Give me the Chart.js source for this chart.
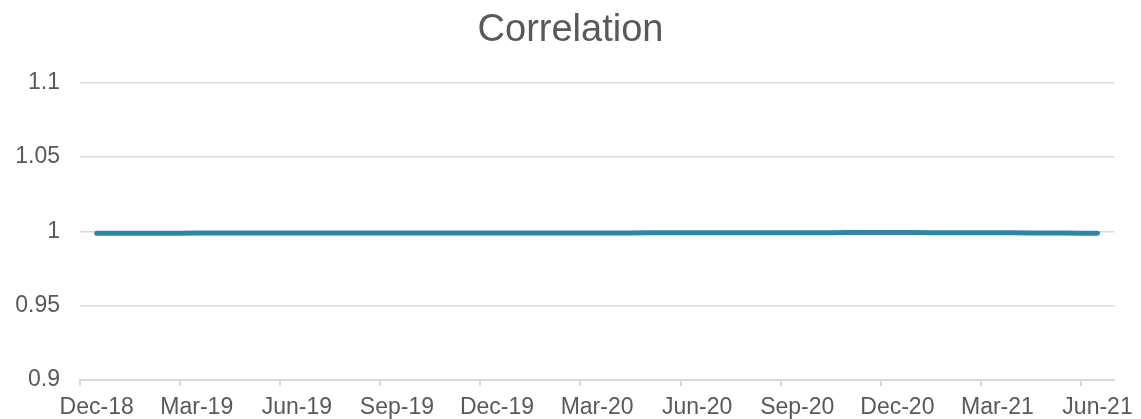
<!DOCTYPE html>
<html lang="en">
<head>
    <meta charset="UTF-8">
    <title>Correlation</title>
    <script src="https://cdn.jsdelivr.net/npm/chart.js"></script>
    <style>
        body {
            margin: 0;
            padding: 0;
            background: white;
        }
        #chart-container {
            width: 1141px;
            height: 419px;
        }
    </style>
</head>
<body>
    <div id="chart-container">
        <canvas id="corrChart"></canvas>
    </div>

    <script>
        // monthly points, Dec-18 .. Jun-21
        const months = [
            'Dec-18', 'Jan-19', 'Feb-19', 'Mar-19', 'Apr-19', 'May-19', 'Jun-19',
            'Jul-19', 'Aug-19', 'Sep-19', 'Oct-19', 'Nov-19', 'Dec-19',
            'Jan-20', 'Feb-20', 'Mar-20', 'Apr-20', 'May-20', 'Jun-20',
            'Jul-20', 'Aug-20', 'Sep-20', 'Oct-20', 'Nov-20', 'Dec-20',
            'Jan-21', 'Feb-21', 'Mar-21', 'Apr-21', 'May-21', 'Jun-21'
        ];
        const correlation = [
            0.9987, 0.9987, 0.9987, 0.9988, 0.9988, 0.9988, 0.9988,
            0.9989, 0.9989, 0.9989, 0.9989, 0.9989, 0.9989,
            0.9989, 0.9989, 0.9989, 0.9989, 0.9990, 0.9990,
            0.9990, 0.9990, 0.9991, 0.9991, 0.9992, 0.9992,
            0.9991, 0.9991, 0.9990, 0.9989, 0.9988, 0.9987
        ];
        const yMin = 0.9;
        const yMax = 1.1;
        const yStep = 0.05;
        const labelEvery = 3;

        const textColor = '#595959';
        const gridColor = '#d9d9d9';
        const font = 'Liberation Sans, Arial, sans-serif';

        const ctx = document.getElementById('corrChart').getContext('2d');
        const corrChart = new Chart(ctx, {
            type: 'line',
            data: {
                labels: months,
                datasets: [{
                    label: 'Correlation',
                    data: correlation,
                    borderColor: '#2e86a6',
                    borderWidth: 5,
                    borderCapStyle: 'round',
                    pointRadius: 0,
                    tension: 0.3,
                    fill: false
                }]
            },
            options: {
                responsive: true,
                maintainAspectRatio: false,
                animation: false,
                layout: {
                    padding: 0
                },
                plugins: {
                    legend: { display: false },
                    tooltip: { enabled: false },
                    title: {
                        display: true,
                        text: 'Correlation',
                        color: textColor,
                        font: { family: font, size: 38, weight: 'normal' },
                        padding: { top: 8, bottom: 29 }
                    }
                },
                scales: {
                    x: {
                        offset: true,
                        afterFit: s => { s.height = 39; },
                        border: { display: true, color: gridColor, width: 2 },
                        grid: {
                            offset: true,
                            drawOnChartArea: false,
                            drawTicks: true,
                            tickLength: 6,
                            lineWidth: 2,
                            color: c => (c.index % labelEvery === 0 && c.index < months.length) ? gridColor : 'transparent'
                        },
                        ticks: {
                            autoSkip: false,
                            maxRotation: 0,
                            padding: 8,
                            color: textColor,
                            font: { family: font, size: 23 },
                            callback: (v, i) => i % labelEvery === 0 ? months[i] : ''
                        }
                    },
                    y: {
                        min: yMin,
                        max: yMax,
                        afterFit: s => { s.width = 80; },
                        border: { display: false },
                        grid: {
                            color: gridColor,
                            lineWidth: 1.5,
                            drawTicks: false
                        },
                        ticks: {
                            stepSize: yStep,
                            padding: 20,
                            color: textColor,
                            font: { family: font, size: 23 },
                            callback: v => String(Math.round(v * 100) / 100)
                        }
                    },
                    // empty right axis, just keeps room on the right so the title stays centred
                    yRight: {
                        type: 'linear',
                        position: 'right',
                        axis: 'y',
                        afterFit: s => { s.width = 20; },
                        border: { display: false },
                        grid: { display: false },
                        ticks: { display: false }
                    }
                }
            }
        });
    </script>
</body>
</html>
